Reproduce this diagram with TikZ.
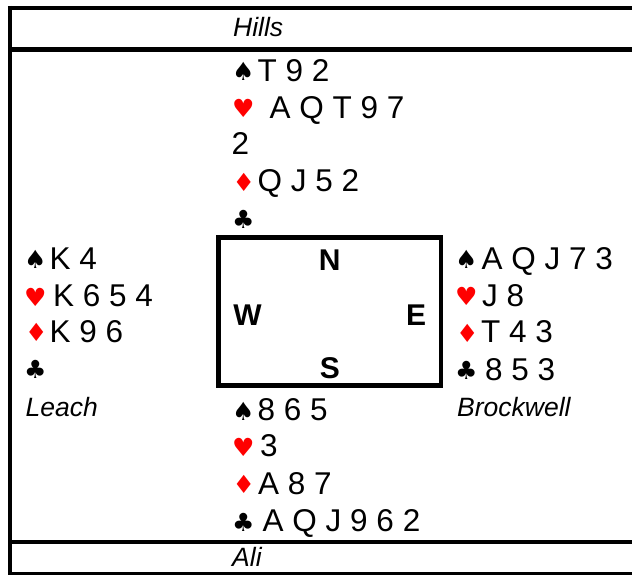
\documentclass[tikz,border=0pt]{standalone}
\usepackage{fontspec}
\setmainfont{Liberation Sans}
\newfontfamily\suitfam{DejaVu Sans}
\newcommand\cdfont{\fontsize{31.5}{36}\selectfont}
\newcommand\nmfont{\fontsize{26.5}{30}\selectfont\itshape}
\newcommand\cpfont{\fontsize{30}{32}\selectfont\bfseries}
\newcommand\stfont{\suitfam\fontsize{25}{30}\selectfont}
\tikzset{
  cards/.style={anchor=base west, inner sep=0pt, font=\cdfont},
  blacksuit/.style={anchor=base west, inner sep=0pt, font=\stfont, text=black},
  redsuit/.style={anchor=base west, inner sep=0pt, font=\stfont, text=red},
  player/.style={anchor=base west, inner sep=0pt, font=\nmfont},
  compass/.style={anchor=center, inner sep=0pt, font=\cpfont},
  rulel/.style={line width=4.4pt},
  tablebox/.style={line width=4.6pt}
}
\begin{document}
\begin{tikzpicture}[x=1pt,y=-1pt]
\useasboundingbox (0,0) rectangle (632,575);
% frame
\coordinate (ftl) at (10,5.8);
\coordinate (fbl) at (10,575);
\draw[rulel] (ftl) -- (fbl);
\coordinate (t1a) at (7.8,8); \coordinate (t1b) at (632,8);
\draw[rulel] (t1a) -- (t1b);
\coordinate (t2a) at (10,49.5); \coordinate (t2b) at (632,49.5);
\draw[rulel] (t2a) -- (t2b);
\coordinate (t3a) at (10,541.7); \coordinate (t3b) at (632,541.7);
\draw[rulel] (t3a) -- (t3b);
\coordinate (t4a) at (10,574); \coordinate (t4b) at (632,574);
\draw[rulel] (t4a) -- (t4b);
% names
\node[player] (hills) at (233,37) {Hills};
\node[player] (ali) at (232,566.5) {Ali};
\node[player] (leach) at (25.5,416.7) {Leach};
\node[player] (brock) at (457,416.7) {Brockwell};
% table
\coordinate (boxtl) at (218.5,237.5);
\coordinate (boxbr) at (441,385.5);
\draw[tablebox] (boxtl) rectangle (boxbr);
\node[compass] (cn) at (329.7,260) {N};
\node[compass] (cw) at (247.5,315) {W};
\node[compass] (ce) at (416,315) {E};
\node[compass] (cs) at (330,368) {S};
% North
\node[blacksuit] (ns) at (232,80.5) {♠};
\node[cards] (nst) at (257.5,81.7) {T 9 2};
\node[redsuit] (nh) at (232,118) {♥};
\node[cards] (nht) at (269.5,118.3) {A Q T 9 7};
\node[cards] (nht2) at (231.5,155) {2};
\node[redsuit] (nd) at (232.5,191.5) {♦};
\node[cards] (ndt) at (257.5,191.7) {Q J 5 2};
\node[blacksuit] (nc) at (232,228) {♣};
% West
\node[blacksuit] (ws) at (24,268) {♠};
\node[cards] (wst) at (49.5,269.3) {K 4};
\node[redsuit] (wh) at (24,306) {♥};
\node[cards] (wht) at (53,306.7) {K 6 5 4};
\node[redsuit] (wd) at (25,341.5) {♦};
\node[cards] (wdt) at (49.5,342) {K 9 6};
\node[blacksuit] (wc) at (24,378) {♣};
% East
\node[blacksuit] (es) at (455,268) {♠};
\node[cards] (est) at (481.5,269.3) {A Q J 7 3};
\node[redsuit] (eh) at (455,305.5) {♥};
\node[cards] (eht) at (482,306) {J 8};
\node[redsuit] (ed) at (456,342) {♦};
\node[cards] (edt) at (481,342.7) {T 4 3};
\node[blacksuit] (ec) at (455,379.5) {♣};
\node[cards] (ect) at (485,380) {8 5 3};
% South
\node[blacksuit] (ss) at (232,420) {♠};
\node[cards] (sst) at (257.5,420.7) {8 6 5};
\node[redsuit] (sh) at (232,456) {♥};
\node[cards] (sht) at (260,456.7) {3};
\node[redsuit] (sd) at (232.5,493.5) {♦};
\node[cards] (sdt) at (258,494) {A 8 7};
\node[blacksuit] (sc) at (232,531) {♣};
\node[cards] (sct) at (262.5,531.7) {A Q J 9 6 2};
\end{tikzpicture}
\end{document}
